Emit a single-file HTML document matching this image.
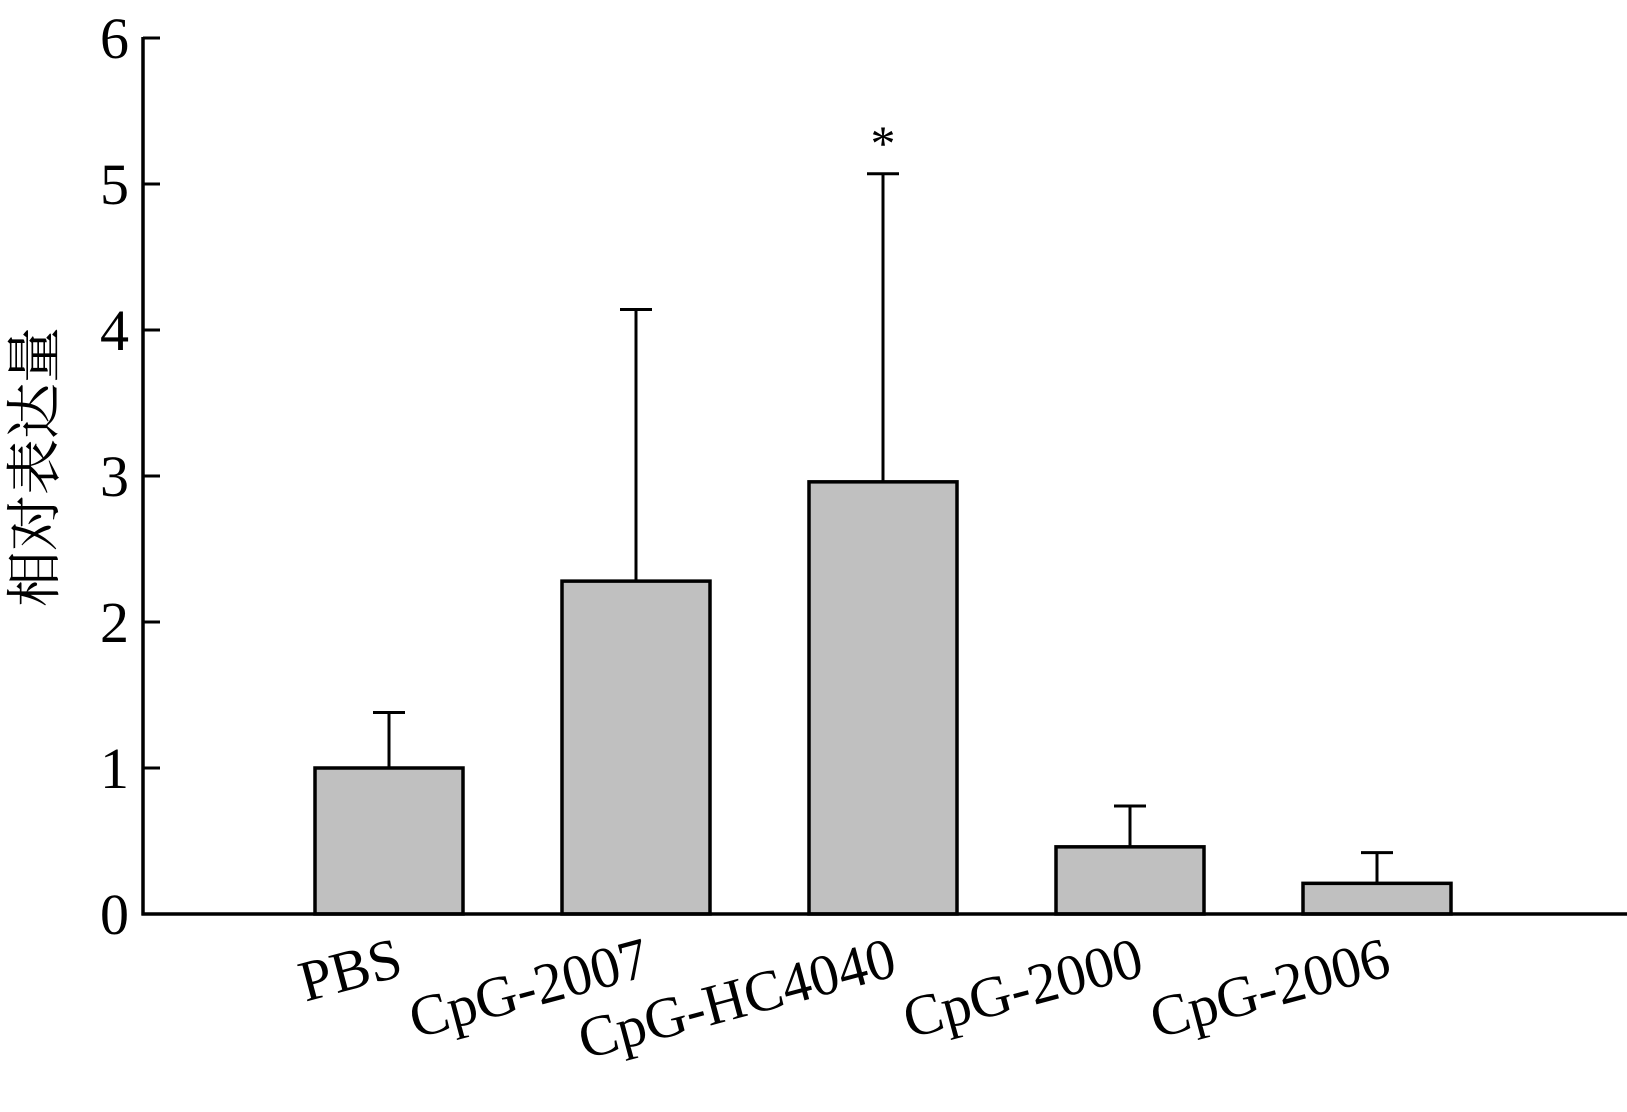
<!DOCTYPE html>
<html><head><meta charset="utf-8"><style>
html,body{margin:0;padding:0;background:#fff;}
svg{display:block;}
text{font-family:"Liberation Serif","Noto Serif CJK SC",serif;fill:#000;}
</style></head><body>
<svg id="chart" width="1627" height="1112" viewBox="0 0 1627 1112" xmlns="http://www.w3.org/2000/svg"></svg>
<script>
const categories = ["PBS","CpG-2007","CpG-HC4040","CpG-2000","CpG-2006"];
const means = [1.0, 2.28, 2.96, 0.46, 0.21];
const errors = [0.38, 1.86, 2.11, 0.28, 0.21];
const yTicks = [0,1,2,3,4,5,6];
const starred = [false,false,true,false,false];

const NS="http://www.w3.org/2000/svg";
const svg=document.getElementById('chart');
const axisX=143, baseY=914, unit=146, firstCenter=389, step=247, barW=148, capW=32;
const y=v=>baseY-v*unit;
const x=i=>firstCenter+i*step;
function mk(tag,attrs,parent){const e=document.createElementNS(NS,tag);for(const k in attrs)e.setAttribute(k,attrs[k]);(parent||svg).appendChild(e);return e;}

// bars
categories.forEach((c,i)=>{
  const g=mk('g',{});
  
  
  const eb=mk('line',{x1:x(i),x2:x(i),y1:y(means[i]),y2:y(means[i]+errors[i]),stroke:'#000','stroke-width':3},g);
  
  
  const cap=mk('line',{x1:x(i)-capW/2,x2:x(i)+capW/2,y1:y(means[i]+errors[i]),y2:y(means[i]+errors[i]),stroke:'#000','stroke-width':3},g);
  
  
  const r=mk('rect',{x:x(i)-barW/2,y:y(means[i]),width:barW,height:baseY-y(means[i]),fill:'#c0c0c0',stroke:'#000','stroke-width':3.5},g);
  
  
  if(starred[i]){
    const s=mk('text',{x:x(i),y:y(means[i]+errors[i])-14,'font-size':50,'text-anchor':'middle'},g);
    s.textContent='*';
    
    
  }
  const lx=x(i)+16, ly=975;
  const t=mk('text',{x:lx,y:ly,'font-size':58,'text-anchor':'end',transform:`rotate(-15 ${lx} ${ly})`},g);
  t.textContent=c;
  
  
});

// axes
const ya=mk('line',{x1:axisX,x2:axisX,y1:y(6)-1,y2:baseY+1.5,stroke:'#000','stroke-width':3.5});


const xa=mk('line',{x1:axisX-1.5,x2:1627,y1:baseY,y2:baseY,stroke:'#000','stroke-width':3.5});


yTicks.forEach(v=>{
  const tk=mk('line',{x1:axisX,x2:axisX+17,y1:y(v),y2:y(v),stroke:'#000','stroke-width':3});
  
  
  const tl=mk('text',{x:129,y:y(v)+20,'font-size':58,'text-anchor':'end'});
  tl.textContent=String(v);
  
  
});
const yt=mk('text',{x:36,y:467,'font-size':56,'text-anchor':'middle','dominant-baseline':'central',transform:'rotate(-90 36 467)'});
yt.textContent='相对表达量';


</script>
</body></html>
